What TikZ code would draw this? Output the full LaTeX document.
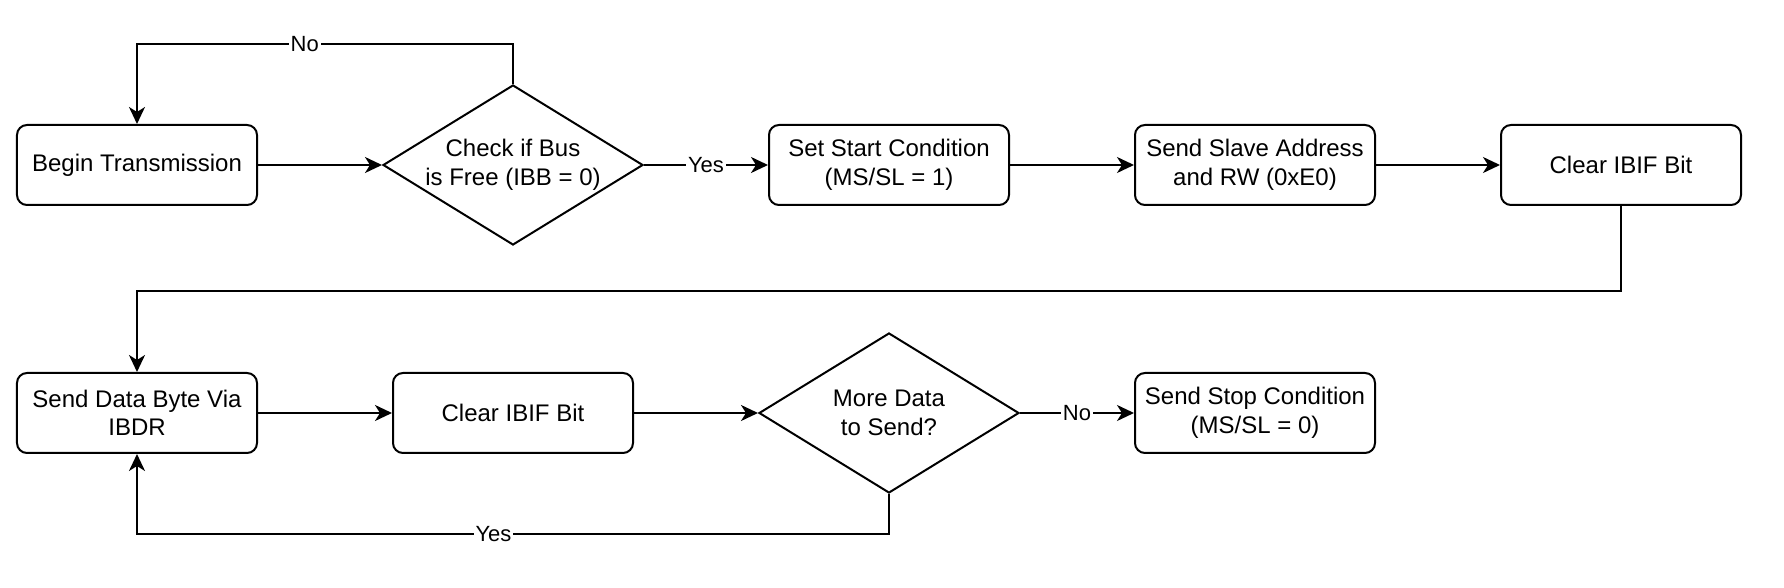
\documentclass[tikz,border=0pt]{standalone}
\usepackage{fontspec}
\setmainfont{Liberation Sans}
\usetikzlibrary{positioning, shapes.geometric, arrows.meta}

\begin{document}
\begin{tikzpicture}[node distance={62pt}, line width=1pt,
    stepbox/.style = {draw, rounded corners=5pt, minimum width=120pt, minimum height=40pt, align=center, font=\fontsize{12}{14.3}\selectfont},
    decision/.style = {draw, diamond, aspect=1.63, minimum width=130pt, minimum height=80pt, inner sep=0pt, align=center, font=\fontsize{12}{14.3}\selectfont},
    answer/.style = {fill=white, inner sep=1pt, font=\fontsize{11}{13}\selectfont},
    flow/.style = {-{Stealth[length=8.5pt, width=8pt, inset=2.5pt]}}]

    \useasboundingbox (-68.5pt,82.5pt) rectangle (823.5pt,-211.5pt);

    % first row
    \node[stepbox] (begin) at (0,0) {Begin Transmission};
    \node[decision] (bus) [right=of begin] {Check if Bus\\is Free (IBB = 0)};
    \node[stepbox] (start) [right=of bus] {Set Start Condition\\(MS/SL = 1)};
    \node[stepbox] (slave) [right=of start] {Send Slave Address\\and RW (0xE0)};
    \node[stepbox] (clear1) [right=of slave] {Clear IBIF Bit};

    % second row
    \node[stepbox] (data) [below=83pt of begin] {Send Data Byte Via\\IBDR};
    \node[stepbox] (clear2) at (bus |- data) {Clear IBIF Bit};
    \node[decision] (more) at (start |- data) {More Data\\to Send?};
    \node[stepbox] (stop) at (slave |- data) {Send Stop Condition\\(MS/SL = 0)};

    \draw[flow] (begin) -- (bus);
    \draw[flow] (bus) -- node[answer] {Yes} (start);
    \draw[flow] (start) -- (slave);
    \draw[flow] (slave) -- (clear1);
    \draw[flow] (bus.north) -- ++(0,20pt) -| node[answer, pos=0.277] {No} (begin.north);
    \draw[flow] (clear1.south) -- ++(0,-42.5pt) -| (data.north);
    \draw[flow] (data) -- (clear2);
    \draw[flow] (clear2) -- (more);
    \draw[flow] (more) -- node[answer] {No} (stop);
    \draw[flow] (more.south) -- ++(0,-20pt) -| node[answer, pos=0.263] {Yes} (data.south);
\end{tikzpicture}
\end{document}
